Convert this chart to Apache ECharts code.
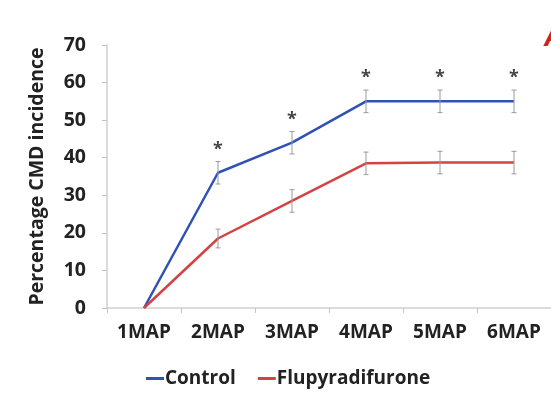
<!DOCTYPE html>
<html>
<head>
<meta charset="utf-8">
<script src="https://cdn.jsdelivr.net/npm/echarts@6/dist/echarts.min.js"></script>
<style>
html,body{margin:0;padding:0;background:#fff;}
#chart{width:551px;height:413px;}
</style>
</head>
<body>
<div id="chart"></div>
<script>
var categories = ['1MAP', '2MAP', '3MAP', '4MAP', '5MAP', '6MAP'];
var controlValues = [0, 36, 44, 55, 55, 55];
var controlErr = [0, 3, 3, 3, 3, 3];
var fluValues = [0, 18.5, 28.5, 38.5, 38.7, 38.7];
var fluErr = [0, 2.5, 3, 3, 3, 3];
var significant = [false, true, true, true, true, true];
var yTicks = [0, 10, 20, 30, 40, 50, 60, 70];

var FONT = '"Open Sans", "DejaVu Sans", sans-serif';
var BLUE = '#2f52b4';
var RED = '#d24343';

function errData(vals, errs) {
  var out = [];
  for (var i = 0; i < vals.length; i++) {
    if (errs[i] > 0) out.push([i, vals[i] - errs[i], vals[i] + errs[i]]);
  }
  return out;
}
function sigData() {
  var out = [];
  for (var i = 0; i < categories.length; i++) {
    if (significant[i]) out.push([i, controlValues[i] + controlErr[i]]);
  }
  return out;
}
function renderErr(params, api) {
  var x = api.value(0), lo = api.value(1), hi = api.value(2);
  var p1 = api.coord([x, lo]), p2 = api.coord([x, hi]);
  var c = 2.5;
  var st = { stroke: '#9a9a9a', lineWidth: 1 };
  return {
    type: 'group',
    children: [
      { type: 'line', shape: { x1: p1[0], y1: p1[1], x2: p2[0], y2: p2[1] }, style: st },
      { type: 'line', shape: { x1: p1[0] - c, y1: p1[1], x2: p1[0] + c, y2: p1[1] }, style: st },
      { type: 'line', shape: { x1: p2[0] - c, y1: p2[1], x2: p2[0] + c, y2: p2[1] }, style: st }
    ]
  };
}

var chart = echarts.init(document.getElementById('chart'), null, { renderer: 'canvas' });
chart.setOption({
  animation: false,
  backgroundColor: '#fff',
  grid: { left: 107, top: 45, width: 450, height: 263, containLabel: false },
  legend: {
    data: [
      { name: 'Control', icon: 'rect' },
      { name: 'Flupyradifurone', icon: 'rect' }
    ],
    left: 141, top: 364,
    itemWidth: 18, itemHeight: 3, itemGap: 22,
    textStyle: { fontFamily: FONT, fontWeight: 'bold', fontSize: 19, color: '#222', padding: [0, 0, 0, -4] }
  },
  xAxis: {
    type: 'category',
    data: categories,
    boundaryGap: true,
    axisLine: { lineStyle: { color: '#cfcfcf', width: 1.5 } },
    axisTick: { show: true, length: 5, lineStyle: { color: '#c4c4c4' } },
    axisLabel: { fontFamily: FONT, fontWeight: 'bold', fontSize: 19, color: '#222', margin: 15 }
  },
  yAxis: {
    type: 'value',
    min: yTicks[0], max: yTicks[yTicks.length - 1], interval: 10,
    name: 'Percentage CMD incidence',
    nameLocation: 'middle',
    nameGap: 60,
    nameTextStyle: { fontFamily: FONT, fontWeight: 'bold', fontSize: 19.5, color: '#222' },
    axisLine: { show: true, lineStyle: { color: '#cfcfcf', width: 1.5 } },
    axisTick: { show: true, length: 5, lineStyle: { color: '#c4c4c4' } },
    splitLine: { show: false },
    axisLabel: { fontFamily: FONT, fontWeight: 'bold', fontSize: 19.5, color: '#222', margin: 21 }
  },
  series: [
    {
      name: 'Control', type: 'line', data: controlValues, color: BLUE,
      symbol: 'none', lineStyle: { width: 2.5, color: BLUE }, z: 3
    },
    {
      name: 'Flupyradifurone', type: 'line', data: fluValues, color: RED,
      symbol: 'none', lineStyle: { width: 2.5, color: RED }, z: 3
    },
    {
      type: 'custom', name: 'ctrlErr', data: errData(controlValues, controlErr),
      renderItem: renderErr, z: 4, silent: true
    },
    {
      type: 'custom', name: 'fluErr', data: errData(fluValues, fluErr),
      renderItem: renderErr, z: 4, silent: true
    },
    {
      type: 'scatter', name: 'sig', data: sigData(), symbolSize: 0, silent: true,
      label: {
        show: true, formatter: '*', position: 'inside', offset: [0, -12],
        fontFamily: FONT, fontWeight: 'bold', fontSize: 18, color: '#111'
      }
    }
  ],
  graphic: [
    {
      type: 'text', left: 545, top: 24,
      style: { text: 'A', fill: '#d42020', fontFamily: FONT, fontWeight: 'bold', fontStyle: 'italic', fontSize: 28 }
    }
  ]
});
</script>
</body>
</html>
